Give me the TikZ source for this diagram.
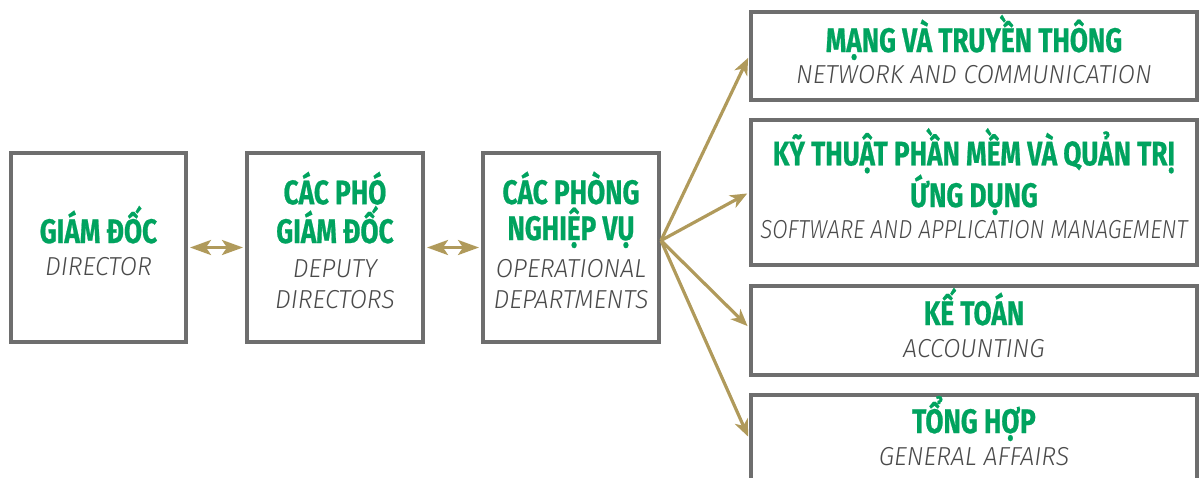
\documentclass[tikz,border=0pt]{standalone}
\usepackage{fontspec}
\usetikzlibrary{arrows.meta}
\newfontfamily\headfont{Fira Sans}[FakeStretch=0.77,FakeBold=0.6]
\newfontfamily\subfont{Fira Sans Light}[FakeStretch=0.96]
\newfontfamily\subnarrowfont{Fira Sans Light}[FakeStretch=0.86]
\definecolor{titlegreen}{HTML}{00A35F}
\definecolor{subgray}{HTML}{4A4A4A}
\definecolor{framegray}{HTML}{6E6E6E}
\definecolor{gold}{HTML}{B09A5B}
\tikzset{
  unit/.style={draw=framegray, line width=4pt, fill=white, inner sep=0pt},
  head/.style={anchor=base, align=center, inner sep=0pt, text=titlegreen,
    font=\headfont\bfseries\fontsize{34}{36}\selectfont},
  sub/.style={anchor=base, align=center, inner sep=0pt, text=subgray,
    font=\subfont\itshape\fontsize{26}{31}\selectfont},
  link/.style={draw=gold, line width=3.2pt, shorten >=2pt,
    -{Stealth[length=17pt,width=14pt,inset=5pt]}},
  both/.style={draw=gold, line width=3.2pt, shorten >=2pt, shorten <=2pt,
    {Stealth[length=21pt,width=15pt,inset=5pt]}-{Stealth[length=21pt,width=15pt,inset=5pt]}}
}
\begin{document}
\begin{tikzpicture}[x=1pt,y=1pt]
\useasboundingbox (0,0) rectangle (1200,-477);
\clip (0,0) rectangle (1200,-477);

% hierarchy boxes
\node[unit, minimum width=175pt, minimum height=189pt] (dir) at (98.5,-247.5) {};
\node[unit, minimum width=176pt, minimum height=189pt] (dep) at (335,-247.5) {};
\node[unit, minimum width=176pt, minimum height=189pt] (ops) at (571,-247.5) {};

% department boxes
\node[unit, minimum width=446pt, minimum height=88pt]  (net) at (974,-56) {};
\node[unit, minimum width=446pt, minimum height=145pt] (sw)  at (974,-192.5) {};
\node[unit, minimum width=446pt, minimum height=89pt]  (acc) at (974,-330.5) {};
\node[unit, minimum width=446pt, minimum height=95pt]  (gen) at (974,-442.5) {};

% labels (base anchor = baseline of the last line)
\node[head] (dirH) at ([yshift=4.5pt]dir.center) {GIÁM ĐỐC};
\node[sub]  (dirS) at ([yshift=-27.5pt]dir.center) {DIRECTOR};
\node[head] (depH) at ([yshift=4.5pt]dep.center) {CÁC PHÓ\\GIÁM ĐỐC};
\node[sub]  (depS) at ([yshift=-60.5pt]dep.center) {DEPUTY\\DIRECTORS};
\node[head] (opsH) at ([yshift=7.5pt]ops.center) {CÁC PHÒNG\\NGHIỆP VỤ};
\node[sub]  (opsS) at ([yshift=-60.5pt]ops.center) {OPERATIONAL\\DEPARTMENTS};

\node[head] (netH) at ([yshift=4pt]net.center) {MẠNG VÀ TRUYỀN THÔNG};
\node[sub]  (netS) at ([yshift=-27pt]net.center) {NETWORK AND COMMUNICATION};
\node[head, font=\headfont\bfseries\fontsize{34}{32}\selectfont] (swH) at ([yshift=-14.5pt]sw.center) {KỸ THUẬT PHẦN MỀM VÀ QUẢN TRỊ\\ỨNG DỤNG};
\node[sub, font=\subnarrowfont\itshape\fontsize{26}{31}\selectfont] (swS) at ([yshift=-45.5pt]sw.center) {SOFTWARE AND APPLICATION MANAGEMENT};
\node[head] (accH) at ([yshift=5.5pt]acc.center) {KẾ TOÁN};
\node[sub]  (accS) at ([yshift=-26.5pt]acc.center) {ACCOUNTING};
\node[head] (genH) at ([yshift=9.5pt]gen.center) {TỔNG HỢP};
\node[sub]  (genS) at ([yshift=-22.5pt]gen.center) {GENERAL AFFAIRS};

% connectors
\draw[both] (dir.east) -- (dep.west);
\draw[both] (dep.east) -- (ops.west);
\coordinate (hub) at ([yshift=7pt]ops.east);
\draw[link] (hub) -- (net.west);
\draw[link] (hub) -- (sw.west);
\draw[link] (hub) -- ([yshift=3pt]acc.west);
\draw[link] (hub) -- ([yshift=4pt]gen.west);
\end{tikzpicture}
\end{document}
